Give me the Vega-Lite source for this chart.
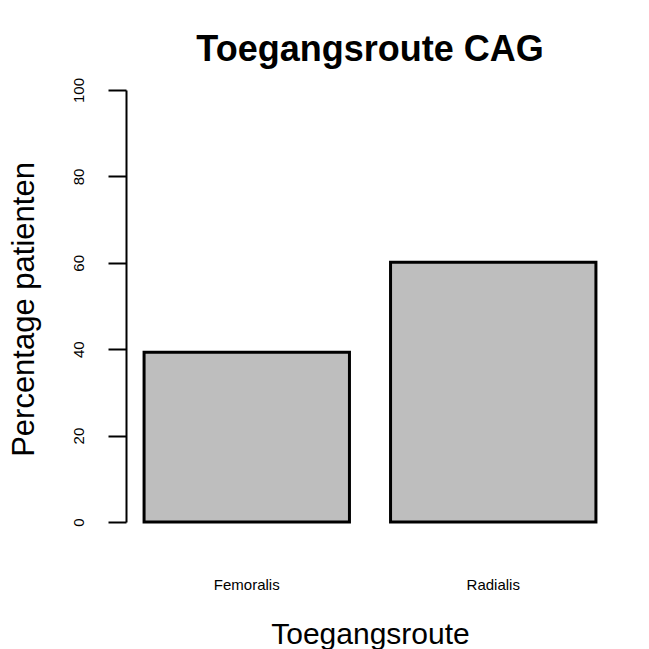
{
  "$schema": "https://vega.github.io/schema/vega-lite/v6.json",
  "width": 488,
  "height": 432,
  "autosize": {"type": "none"},
  "padding": {"left": 126, "top": 90, "right": 35, "bottom": 127},
  "background": "white",
  "title": {
    "text": "Toegangsroute CAG",
    "font": "Liberation Sans",
    "fontSize": 36,
    "fontWeight": "bold",
    "color": "black",
    "anchor": "middle",
    "frame": "group",
    "baseline": "alphabetic",
    "offset": 31,
    "dy": 51
  },
  "config": {"view": {"stroke": null}, "axis": {"grid": false}},
  "data": {
    "values": [
      {"route": "Femoralis", "pct": 39.3},
      {"route": "Radialis", "pct": 60.1}
    ]
  },
  "mark": {"type": "bar", "fill": "#BEBEBE", "stroke": "black", "strokeWidth": 3},
  "encoding": {
    "x": {
      "field": "route",
      "type": "nominal",
      "scale": {"paddingInner": 0.1667, "paddingOuter": 0.0733},
      "axis": {
        "title": "Toegangsroute",
        "labelAngle": 0,
        "domain": false,
        "ticks": false,
        "tickSize": 0,
        "labelPadding": 55,
        "labelFont": "Liberation Sans",
        "labelFontSize": 15,
        "labelColor": "black",
        "titleFont": "Liberation Sans",
        "titleFontSize": 30,
        "titleFontWeight": "normal",
        "titleColor": "black",
        "titleBaseline": "alphabetic",
        "titleY": 121
      }
    },
    "y": {
      "field": "pct",
      "type": "quantitative",
      "scale": {"domain": [0, 100], "nice": false},
      "axis": {
        "title": "Percentage patienten",
        "values": [0, 20, 40, 60, 80, 100],
        "labelAngle": 270,
        "labelAlign": "center",
        "labelBaseline": "middle",
        "labelPadding": 30,
        "labelFont": "Liberation Sans",
        "labelFontSize": 15,
        "labelColor": "black",
        "tickSize": 18,
        "tickWidth": 2,
        "tickColor": "black",
        "domainColor": "black",
        "domainWidth": 2,
        "titleFont": "Liberation Sans",
        "titleFontSize": 31,
        "titleFontWeight": "normal",
        "titleColor": "black",
        "titleAngle": 270,
        "titleBaseline": "alphabetic",
        "titleAlign": "center",
        "titleX": -93,
        "titleY": 219
      }
    }
  }
}
